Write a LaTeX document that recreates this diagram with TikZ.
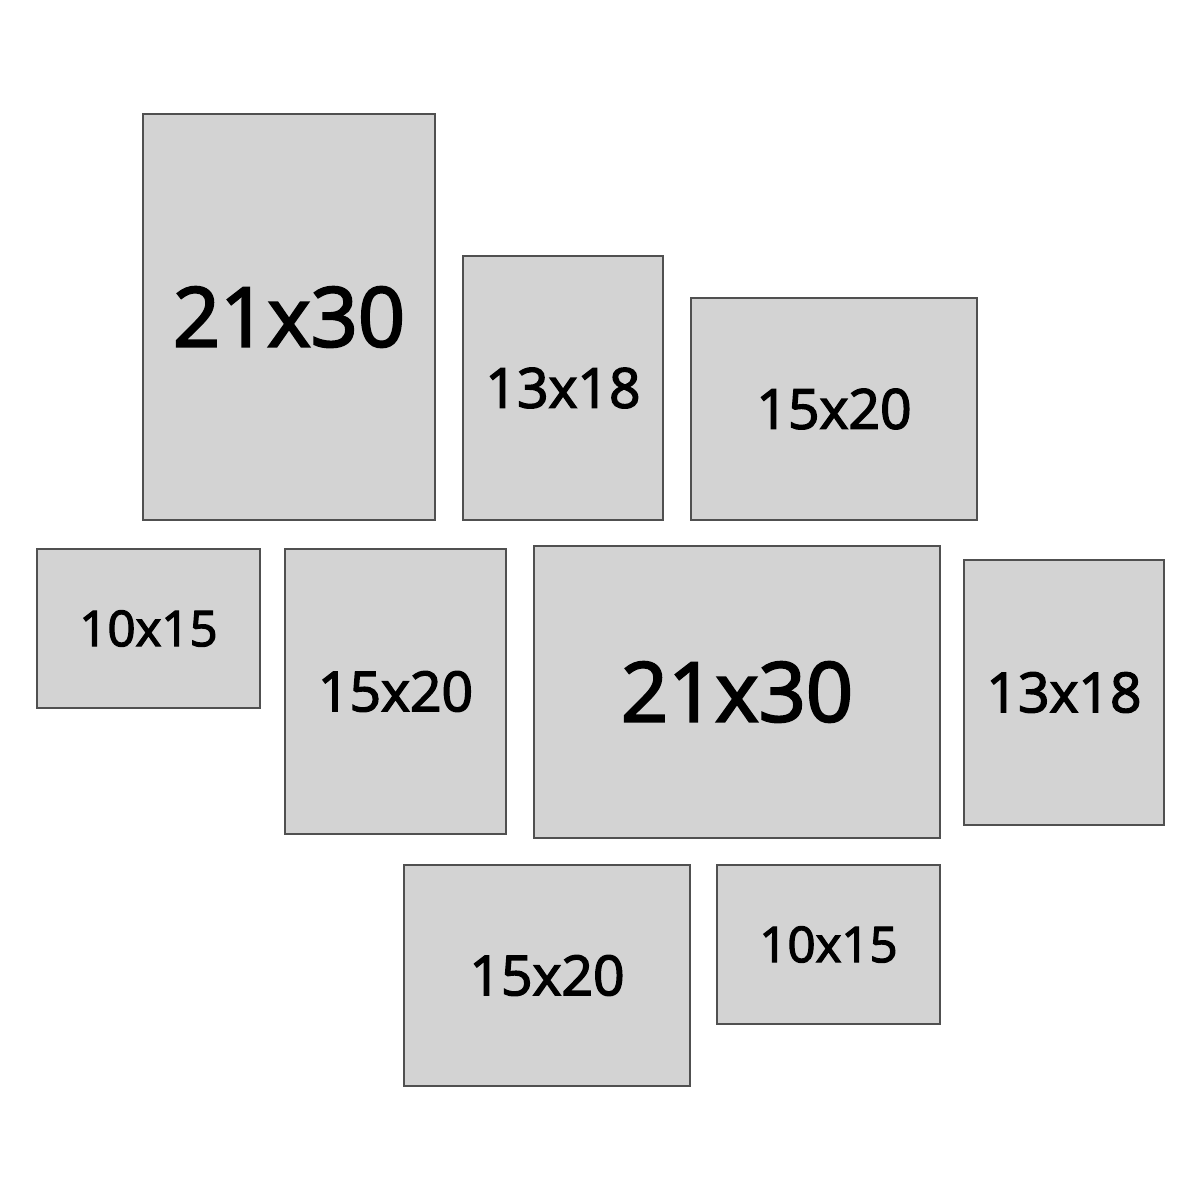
\documentclass[tikz,border=0pt]{standalone}
\usepackage{fontspec}
\setmainfont{Open Sans}[UprightFeatures={FakeBold=2.6}]
\usepackage{xcolor}
\definecolor{framefill}{HTML}{D3D3D3}
\definecolor{frameline}{HTML}{505050}
\tikzset{
  frame/.style={draw=frameline, fill=framefill, line width=0.6pt, inner sep=0pt, text=black},
  bigsize/.style={font=\fontsize{23.5}{28}\selectfont},
  midsize/.style={font=\fontsize{15.7}{19}\selectfont},
  smallsize/.style={font=\fontsize{14}{17}\selectfont}
}
\begin{document}
\begin{tikzpicture}
  \fill[white] (0,0) rectangle (12,12);
  \useasboundingbox (0,0) rectangle (12,12);
  % top row
  \node[frame, bigsize, minimum width=2.92cm, minimum height=4.06cm] (topbig) at (2.89,8.83) {21x30};
  \node[frame, midsize, minimum width=2.00cm, minimum height=2.64cm] (topsmall) at (5.63,8.12) {13x18};
  \node[frame, midsize, minimum width=2.86cm, minimum height=2.22cm] (topmid) at (8.34,7.91) {15x20};
  % middle row
  \node[frame, smallsize, minimum width=2.23cm, minimum height=1.59cm] (leftmini) at (1.485,5.715) {10x15};
  \node[frame, midsize, minimum width=2.21cm, minimum height=2.85cm] (leftmid) at (3.955,5.085) {15x20};
  \node[frame, bigsize, minimum width=4.06cm, minimum height=2.92cm] (centerbig) at (7.37,5.08) {21x30};
  \node[frame, midsize, minimum width=2.00cm, minimum height=2.65cm] (rightsmall) at (10.64,5.075) {13x18};
  % bottom row
  \node[frame, midsize, minimum width=2.86cm, minimum height=2.21cm] (bottommid) at (5.47,2.245) {15x20};
  \node[frame, smallsize, minimum width=2.23cm, minimum height=1.59cm] (bottommini) at (8.285,2.555) {10x15};
\end{tikzpicture}
\end{document}
